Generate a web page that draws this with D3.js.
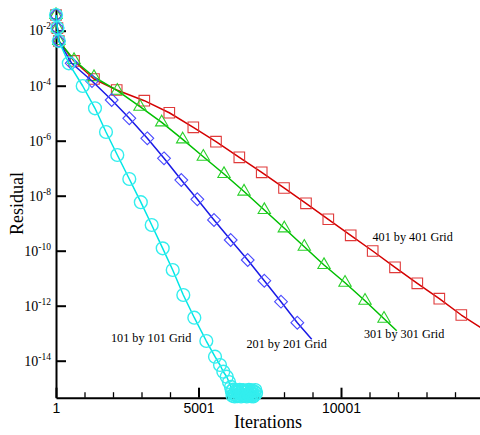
<!DOCTYPE html>
<html>
<head>
<meta charset="utf-8">
<script src="https://cdn.jsdelivr.net/npm/d3@7"></script>
<style>
  body { margin: 0; background: #fff; }
  svg { display: block; }
</style>
</head>
<body>
<svg id="chart" width="480" height="435"></svg>
<script>
// ---- data: residual history for each grid ----
// first iterations are shared by every run
const startIter = [1, 50, 100];
const startRes  = [3.72e-2, 1.25e-2, 4.22e-3];

// 401 x 401 grid
const iter401 = [633, 1334, 2131, 3099, 3976, 4819, 5615, 6433, 7219, 8001, 8773, 9555, 10341, 11113, 11896, 12678, 13450, 14222];
const res401  = [7.94e-4, 1.75e-4, 6.98e-5, 2.85e-5, 1.04e-5, 3.07e-6, 9.20e-7, 2.49e-7, 7.10e-8, 1.91e-8, 5.30e-9, 1.39e-9, 3.63e-10, 9.75e-11, 2.49e-11, 6.53e-12, 1.80e-12, 4.59e-13];
const tailIter401 = [15254];
const tailRes401  = [9.44e-14];

// 301 x 301 grid
const iter301 = [633, 1334, 2152, 2948, 3710, 4446, 5170, 5896, 6598, 7310, 8012, 8713, 9405, 10142, 10843, 11510];
const res301  = [8.61e-4, 2.07e-4, 6.58e-5, 1.72e-5, 4.67e-6, 1.12e-6, 2.62e-7, 6.15e-8, 1.42e-8, 3.02e-9, 6.53e-10, 1.40e-10, 3.02e-11, 6.86e-12, 1.52e-12, 3.37e-13];
const tailIter301 = [11955];
const tailRes301  = [1.23e-13];

// 201 x 201 grid
const iter201 = [552, 1264, 1955, 2573, 3205, 3791, 4398, 4960, 5545, 6131, 6728, 7310, 7896, 8468];
const res201  = [6.53e-4, 1.48e-4, 3.02e-5, 6.53e-6, 1.22e-6, 2.29e-7, 3.72e-8, 7.40e-9, 1.31e-9, 2.45e-10, 4.59e-11, 8.11e-12, 1.40e-12, 2.41e-13];
const tailIter201 = [8973];
const tailRes201  = [6.00e-14];

// 101 x 101 grid (reaches round-off level and stalls)
const iter101 = [450, 938, 1369, 1755, 2152, 2573, 2977, 3359, 3745, 4096, 4468, 4854, 5275, 5580, 5756, 5872, 5991, 6071, 6141,
  6170, 6195, 6220, 6245, 6270, 6295, 6320, 6345, 6370, 6395, 6420, 6445, 6470, 6495, 6520, 6545, 6570, 6595,
  6620, 6645, 6670, 6695, 6720, 6745, 6770, 6795, 6820, 6845, 6870, 6895, 6920, 6945, 6970, 6995, 7020];
const res101  = [6.53e-4, 9.75e-5, 1.51e-5, 2.07e-6, 3.02e-7, 4.05e-8, 5.81e-9, 8.61e-10, 1.22e-10, 1.99e-11, 2.45e-12, 3.66e-13, 5.20e-14, 1.40e-14, 6.98e-15, 3.98e-15, 2.62e-15, 1.68e-15, 1.11e-15,
  7.9e-16, 5.3e-16, 8.9e-16, 6.0e-16, 5.0e-16, 7.5e-16, 5.6e-16, 8.4e-16, 5.1e-16, 7.1e-16, 5.4e-16, 8.7e-16, 6.3e-16, 5.0e-16, 7.8e-16, 5.8e-16, 8.5e-16, 5.2e-16,
  6.9e-16, 5.5e-16, 8.1e-16, 5.0e-16, 7.4e-16, 6.1e-16, 8.8e-16, 5.3e-16, 7.0e-16, 5.1e-16, 8.3e-16, 6.2e-16, 5.0e-16, 7.7e-16, 5.7e-16, 8.6e-16, 6.6e-16];

// axis ticks
const xMajorTicks = [1, 5001, 10001];
const xMinorTicks = [1001, 2001, 3001, 4001, 6001, 7001, 8001, 9001, 11001, 12001, 13001, 14001];
const yTickExponents = [-2, -4, -6, -8, -10, -12, -14];

const gridLabels = ["401 by 401 Grid", "301 by 301 Grid", "201 by 201 Grid", "101 by 101 Grid"];

// ---- scales ----
const x = d3.scaleLinear().domain([1, 14878]).range([56, 480]);
const y = d3.scaleLog().domain([Math.pow(10, -15.345), Math.pow(10, -1.1855)]).range([397.7, 8.3]);

const svg = d3.select("#chart");
const serif = "'Liberation Serif', 'Times New Roman', serif";
const sans = "'Liberation Sans', Arial, sans-serif";

const zip = (a, b) => a.map((v, i) => [v, b[i]]);

const series = [
  { label: gridLabels[0], it: iter401, r: res401, tIt: tailIter401, tR: tailRes401, line: "#d40000", mark: "#e03a3a", shape: "square",   lx: 372.5, ly: 240.7 },
  { label: gridLabels[1], it: iter301, r: res301, tIt: tailIter301, tR: tailRes301, line: "#00bf00", mark: "#2ad02a", shape: "triangle", lx: 364,   ly: 338.3 },
  { label: gridLabels[2], it: iter201, r: res201, tIt: tailIter201, tR: tailRes201, line: "#1a1ae6", mark: "#4a4aff", shape: "diamond",  lx: 246.5, ly: 347.7 },
  { label: gridLabels[3], it: iter101, r: res101, tIt: [],          tR: [],         line: "#00e6e6", mark: "#33eeee", shape: "circle",   lx: 111,   ly: 342 }
];

const line = d3.line().x(d => x(d[0])).y(d => y(d[1]));

function markerPath(shape) {
  if (shape === "square") return d3.symbol(d3.symbolSquare, 112)();
  if (shape === "triangle") return d3.symbol(d3.symbolTriangle, 66)();
  if (shape === "diamond") return "M0,-6.4L6.4,0L0,6.4L-6.4,0Z";
  return null;
}

// ---- axes (drawn first so the curves sit on top) ----
const xAxis = svg.append("g")
  .attr("transform", "translate(0,397.7)")
  .call(d3.axisBottom(x).tickValues(xMajorTicks).tickSize(-10).tickSizeOuter(0).tickPadding(5.5)
    .tickFormat(d3.format("d")));
xAxis.select(".domain").attr("stroke", "#000").attr("stroke-width", 2);
xAxis.selectAll(".tick line").attr("stroke", "#000").attr("stroke-width", 2);
xAxis.selectAll(".tick text").attr("font-family", sans).attr("font-size", 14).attr("fill", "#000");

const xMinor = svg.append("g")
  .attr("transform", "translate(0,397.7)")
  .call(d3.axisBottom(x).tickValues(xMinorTicks).tickSize(-5.5).tickSizeOuter(0).tickFormat(""));
xMinor.select(".domain").remove();
xMinor.selectAll(".tick line").attr("stroke", "#000").attr("stroke-width", 1.3);

const yAxis = svg.append("g")
  .attr("transform", "translate(56,0)")
  .call(d3.axisLeft(y).tickValues(yTickExponents.map(e => Math.pow(10, e))).tickSize(-10).tickSizeOuter(0).tickFormat(""));
yAxis.select(".domain").attr("stroke", "#000").attr("stroke-width", 2);
yAxis.selectAll(".tick line").attr("stroke", "#000").attr("stroke-width", 2);

// power-of-ten labels with superscript exponents
const yLab = svg.append("g");
yTickExponents.forEach(e => {
  const t = yLab.append("text")
    .attr("x", 51)
    .attr("y", y(Math.pow(10, e)) + 4.8)
    .attr("text-anchor", "end")
    .attr("font-family", serif)
    .attr("font-size", 14)
    .attr("fill", "#000");
  t.append("tspan").text("10");
  t.append("tspan").attr("font-size", 9.5).attr("dy", -6).text(String(e));
});

// ---- curves with symbols ----
const plot = svg.append("g");

series.forEach(s => {
  const pts = zip(startIter, startRes).concat(zip(s.it, s.r));
  const linePts = pts.concat(zip(s.tIt, s.tR));
  const g = plot.append("g");
  g.append("path")
    .datum(linePts)
    .attr("d", line)
    .attr("fill", "none")
    .attr("stroke", s.line)
    .attr("stroke-width", 1.5)
    .attr("stroke-linejoin", "round");

  if (s.shape === "circle") {
    g.selectAll("circle.m").data(pts).join("circle")
      .attr("class", "m")
      .attr("cx", d => x(d[0]))
      .attr("cy", d => y(d[1]))
      .attr("r", 6.4)
      .attr("fill", "none")
      .attr("stroke", s.mark)
      .attr("stroke-width", 1.4);
  } else {
    const p = markerPath(s.shape);
    g.selectAll("path.m").data(pts).join("path")
      .attr("class", "m")
      .attr("d", p)
      .attr("transform", d => `translate(${x(d[0])},${y(d[1])})`)
      .attr("fill", "none")
      .attr("stroke", s.mark)
      .attr("stroke-width", 1.1);
  }
});

// axis titles
svg.append("text")
  .attr("x", 268)
  .attr("y", 428)
  .attr("text-anchor", "middle")
  .attr("font-family", serif)
  .attr("font-size", 18)
  .attr("fill", "#000")
  .text("Iterations");

svg.append("text")
  .attr("transform", "translate(22.5,203.5) rotate(-90)")
  .attr("text-anchor", "middle")
  .attr("font-family", serif)
  .attr("font-size", 18)
  .attr("fill", "#000")
  .text("Residual");

// grid-size labels next to each curve
svg.append("g").selectAll("text").data(series).join("text")
  .attr("x", d => d.lx)
  .attr("y", d => d.ly)
  .attr("font-family", serif)
  .attr("font-size", 12.2)
  .attr("fill", "#000")
  .text(d => d.label);
</script>
</body>
</html>
